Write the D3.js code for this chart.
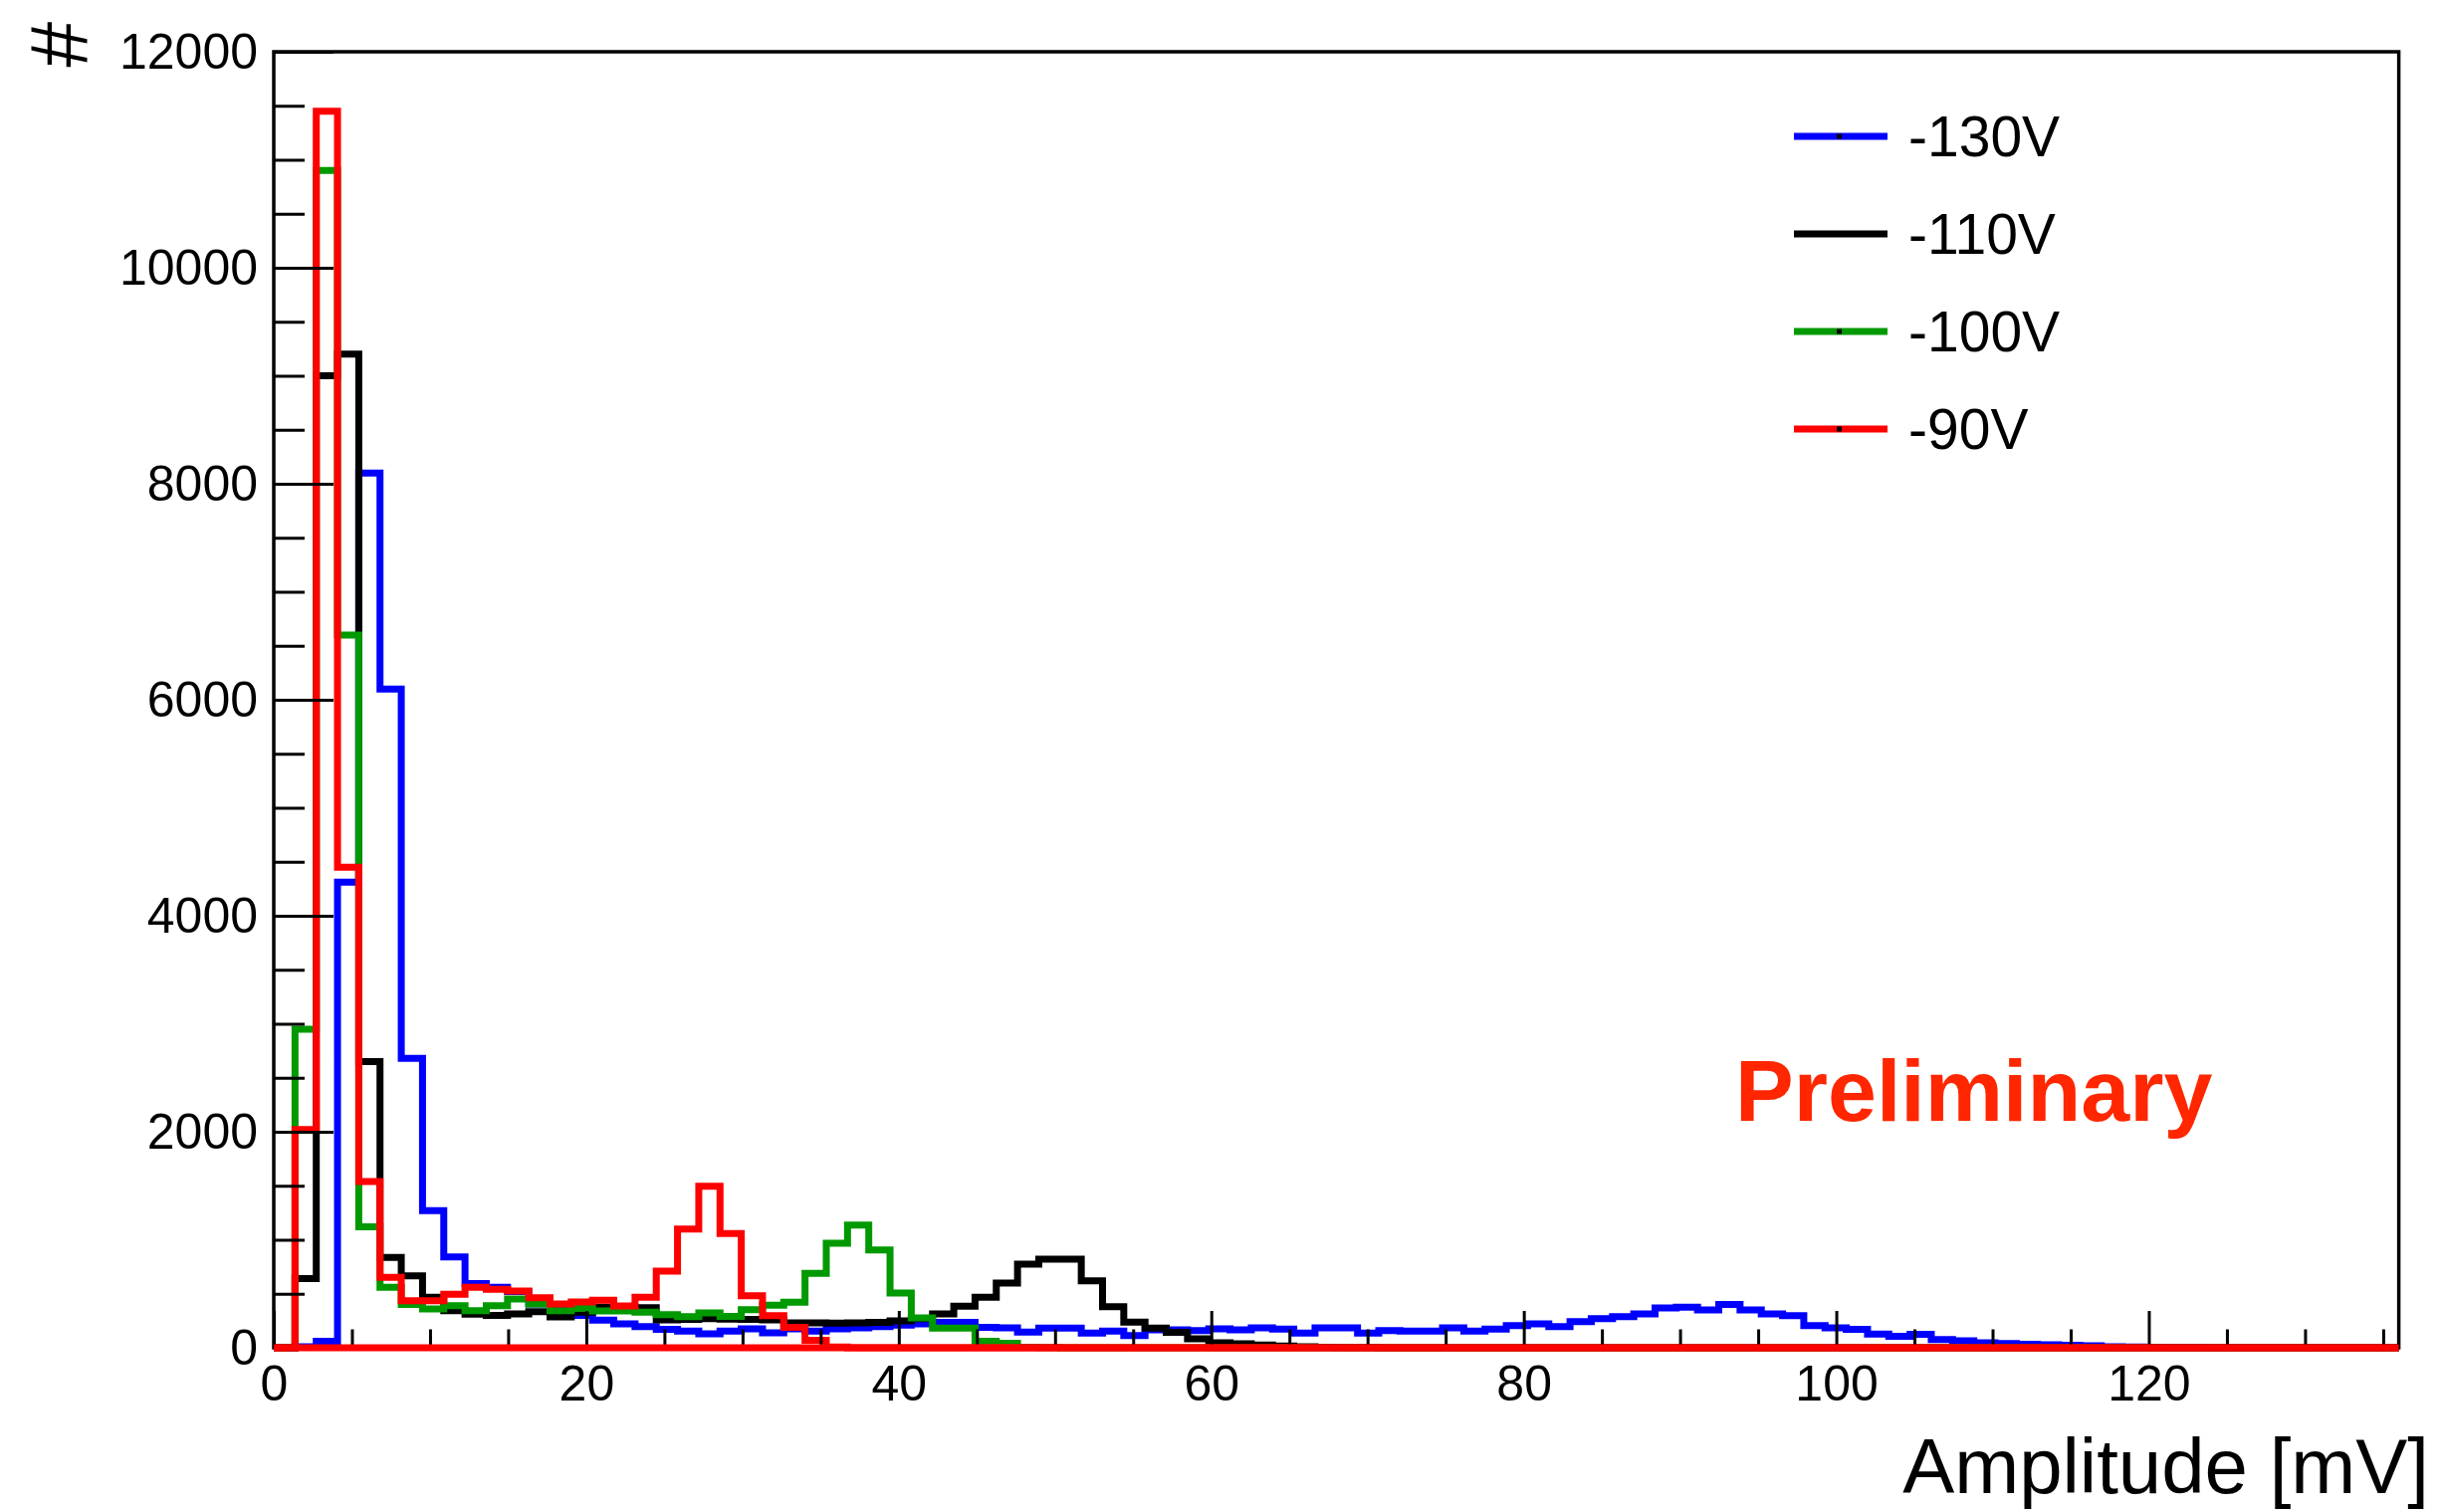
<!DOCTYPE html>
<html>
<head>
<meta charset="utf-8">
<script src="https://cdn.jsdelivr.net/npm/d3@7"></script>
<style>
  html, body { margin: 0; padding: 0; background: #fff; }
  text { font-family: "Liberation Sans", Arial, Helvetica, sans-serif; }
</style>
</head>
<body>
<div id="chart"></div>
<script>
// Histogram settings: 100 bins from 0 to 136 mV
const xMin = 0, xMax = 136, nBins = 100;
const binWidth = (xMax - xMin) / nBins;

// Bin contents
const counts130 = [0, 10, 60, 4310, 8100, 6100, 2680, 1270, 840, 595,
  560, 520, 405, 380, 300, 255, 221, 195, 170, 154,
  129, 154, 175, 138, 175, 154, 175, 185, 196, 209,
  221, 236, 236, 190, 184, 145, 181, 181, 135, 154,
  113, 166, 166, 160, 175, 166, 184, 172, 135, 184,
  184, 135, 160, 154, 154, 184, 154, 172, 206, 221,
  197, 243, 270, 289, 313, 369, 375, 350, 400, 350,
  313, 298, 206, 184, 170, 127, 106, 125, 76, 65,
  45, 39, 32, 28, 24, 18, 10, 6, 4, 3,
  2, 1, 0, 0, 0, 0, 0, 0, 0, 0];

const counts110 = [0, 640, 9000, 9200, 2650, 836, 667, 467, 344, 310,
  300, 313, 335, 285, 330, 375, 375, 370, 258, 262,
  270, 265, 262, 258, 230, 230, 228, 230, 235, 250,
  270, 313, 384, 467, 600, 774, 820, 820, 620, 381,
  237, 181, 144, 83, 46, 37, 25, 15, 10, 5,
  3, 2, 0, 0, 0, 0, 0, 0, 0, 0,
  0, 0, 0, 0, 0, 0, 0, 0, 0, 0,
  0, 0, 0, 0, 0, 0, 0, 0, 0, 0,
  0, 0, 0, 0, 0, 0, 0, 0, 0, 0,
  0, 0, 0, 0, 0, 0, 0, 0, 0, 0];

const counts100 = [0, 2950, 10900, 6600, 1120, 560, 400, 359, 390, 344,
  390, 452, 405, 344, 365, 340, 340, 330, 307, 288,
  323, 290, 353, 393, 421, 688, 968, 1137, 906, 507,
  276, 181, 181, 61, 42, 5, 3, 0, 0, 0,
  0, 0, 0, 0, 0, 0, 0, 0, 0, 0,
  0, 0, 0, 0, 0, 0, 0, 0, 0, 0,
  0, 0, 0, 0, 0, 0, 0, 0, 0, 0,
  0, 0, 0, 0, 0, 0, 0, 0, 0, 0,
  0, 0, 0, 0, 0, 0, 0, 0, 0, 0,
  0, 0, 0, 0, 0, 0, 0, 0, 0, 0];

const counts90 = [0, 2020, 11450, 4450, 1540, 651, 436, 436, 495, 559,
  541, 525, 464, 405, 425, 440, 386, 468, 710, 1100,
  1496, 1057, 482, 298, 190, 68, 8, 0, 0, 0,
  0, 0, 0, 0, 0, 0, 0, 0, 0, 0,
  0, 0, 0, 0, 0, 0, 0, 0, 0, 0,
  0, 0, 0, 0, 0, 0, 0, 0, 0, 0,
  0, 0, 0, 0, 0, 0, 0, 0, 0, 0,
  0, 0, 0, 0, 0, 0, 0, 0, 0, 0,
  0, 0, 0, 0, 0, 0, 0, 0, 0, 0,
  0, 0, 0, 0, 0, 0, 0, 0, 0, 0];

const seriesNames = ["-130V", "-110V", "-100V", "-90V"];
const seriesColors = ["#0000ff", "#000000", "#009900", "#ff0000"];
const seriesCounts = [counts130, counts110, counts100, counts90];

const xMajorTicks = [0, 20, 40, 60, 80, 100, 120];
const yMajorTicks = [0, 2000, 4000, 6000, 8000, 10000, 12000];

const width = 2453, height = 1519;
const margin = { top: 52, right: 43.4, bottom: 165, left: 275 };

const svg = d3.select("#chart")
    .append("svg")
    .attr("width", width)
    .attr("height", height);

// Scales
const x = d3.scaleLinear()
    .domain([xMin, xMax])
    .range([margin.left, width - margin.right]);

const y = d3.scaleLinear()
    .domain([0, 12000])
    .range([height - margin.bottom, margin.top]);

// Histograms (drawn in legend order, last one on top)
const line = d3.line()
    .x(d => x(d[0]))
    .y(d => y(d[1]))
    .curve(d3.curveStepAfter);

seriesCounts.forEach((counts, s) => {
    const pts = counts.map((c, i) => [xMin + i * binWidth, c]);
    pts.push([xMax, counts[counts.length - 1]]);
    svg.append("path")
        .datum(pts)
        .attr("d", line)
        .attr("fill", "none")
        .attr("stroke", seriesColors[s])
        .attr("stroke-width", 7)
        .attr("stroke-linejoin", "miter");
});

// Axes
const xMinor = d3.range(0, 136, 5).filter(v => v % 20 !== 0);
const yMinor = d3.range(0, 12000, 500).filter(v => v % 2000 !== 0);

const xAxis = svg.append("g")
    .attr("transform", `translate(0, ${y(0)})`)
    .call(d3.axisBottom(x).tickValues(xMajorTicks).tickSizeInner(-37).tickSizeOuter(0).tickPadding(17));
xAxis.selectAll("text").style("font-size", "50px").attr("fill", "#000");

svg.append("g")
    .attr("transform", `translate(0, ${y(0)})`)
    .call(d3.axisBottom(x).tickValues(xMinor).tickSizeInner(-18.5).tickSizeOuter(0).tickFormat(""));

const yAxis = svg.append("g")
    .attr("transform", `translate(${x(0)}, 0)`)
    .call(d3.axisLeft(y).tickValues(yMajorTicks).tickFormat(d3.format("d"))
        .tickSizeInner(-60).tickSizeOuter(0).tickPadding(16));
yAxis.selectAll("text").style("font-size", "50px").attr("fill", "#000");

svg.append("g")
    .attr("transform", `translate(${x(0)}, 0)`)
    .call(d3.axisLeft(y).tickValues(yMinor).tickSizeInner(-31).tickSizeOuter(0).tickFormat(""));

svg.selectAll(".domain").remove();
svg.selectAll(".tick line").attr("stroke", "#000").attr("stroke-width", 3);

// Frame
svg.append("rect")
    .attr("x", x(xMin))
    .attr("y", y(12000))
    .attr("width", x(xMax) - x(xMin))
    .attr("height", y(0) - y(12000))
    .attr("fill", "none")
    .attr("stroke", "#000")
    .attr("stroke-width", 3.5);

// redraw the red histogram's baseline over the frame, as in the picture
svg.append("line")
    .attr("x1", x(xMin)).attr("x2", x(xMax))
    .attr("y1", y(0)).attr("y2", y(0))
    .attr("stroke", seriesColors[3])
    .attr("stroke-width", 7);

// Axis titles
svg.append("text")
    .attr("x", 2440)
    .attr("y", 1500)
    .attr("text-anchor", "end")
    .style("font-size", "78px")
    .text("Amplitude [mV]");

svg.append("text")
    .attr("transform", "translate(87, 22) rotate(-90)")
    .attr("text-anchor", "end")
    .style("font-size", "82px")
    .text("#");

// Legend
const legend = svg.append("g")
    .attr("transform", "translate(1802, 137)");

seriesNames.forEach((name, i) => {
    legend.append("line")
        .attr("x1", 0).attr("x2", 94)
        .attr("y1", i * 98).attr("y2", i * 98)
        .attr("stroke", seriesColors[i])
        .attr("stroke-width", 7);
    legend.append("rect")
        .attr("x", 43).attr("y", i * 98 - 2.5)
        .attr("width", 5).attr("height", 5)
        .attr("fill", "#000");
    legend.append("text")
        .attr("x", 115)
        .attr("y", i * 98 + 20)
        .style("font-size", "57px")
        .text(name);
});

// Preliminary label
svg.append("text")
    .attr("x", 1743)
    .attr("y", 1126)
    .style("font-size", "88px")
    .style("font-weight", "bold")
    .attr("fill", "#ff2600")
    .text("Preliminary");
</script>
</body>
</html>
